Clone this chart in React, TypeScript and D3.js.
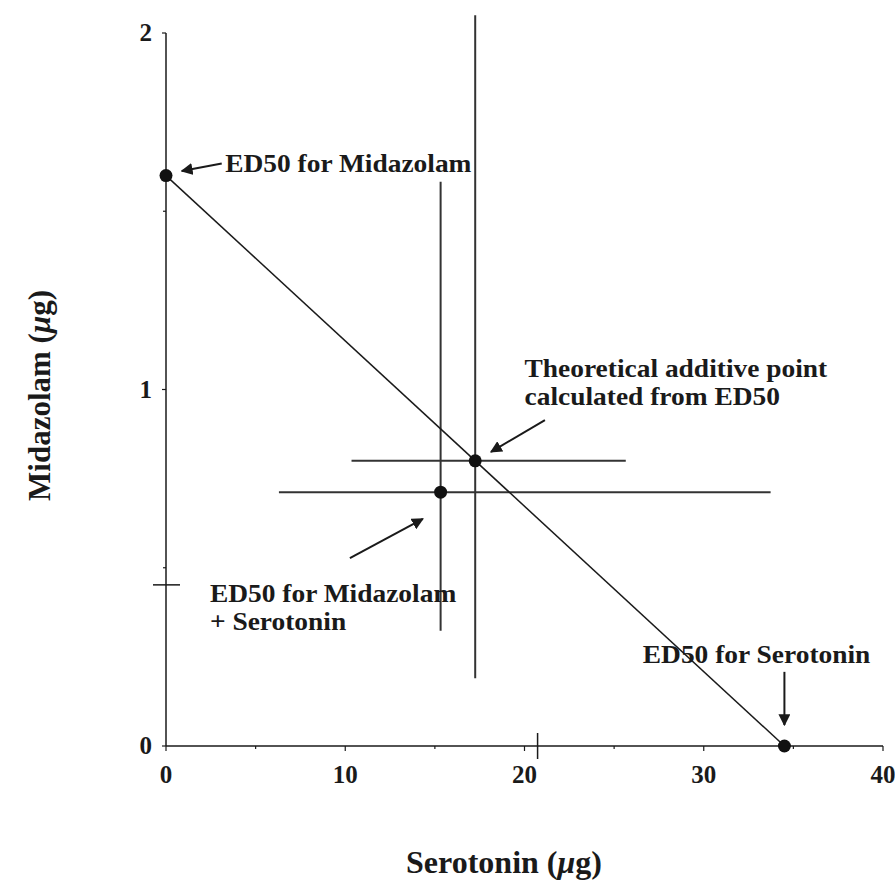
import React, { useRef, useEffect } from "react";
import * as d3 from "d3";

// axis ticks
const xTicks = [0, 10, 20, 30, 40];
const xMinorTicks = [5, 15, 25, 35];
const yTicks = [0, 1, 2];
const yMinorTicks = [0.5, 1.5];

// ED50 values (serotonin ug, midazolam ug)
const ed50Midazolam = [0, 1.6];
const ed50Serotonin = [34.5, 0];
const theoretical = [17.25, 0.8];
const theoreticalXErr = [10.35, 25.65];
const theoreticalYErr = [0.19, 2.05];
const combination = [15.32, 0.712];
const combinationXErr = [6.3, 33.73];
const combinationYErr = [0.323, 1.583];

// cross marks drawn on the axes
const xAxisMark = 20.73;
const yAxisMark = 0.452;

// annotation anchors, in data units
const labels = [
  { x: 3.3, y: 1.61, lines: ["ED50 for Midazolam"] },
  { x: 20.0, y: 1.035, lines: ["Theoretical additive point", "calculated from ED50"] },
  { x: 2.45, y: 0.404, lines: ["ED50 for Midazolam", "+ Serotonin"] },
  { x: 26.6, y: 0.233, lines: ["ED50 for Serotonin"] },
];
const arrows = [
  { from: [3.11, 1.634], to: [0.88, 1.613] },
  { from: [21.14, 0.914], to: [18.13, 0.825] },
  { from: [10.26, 0.527], to: [14.33, 0.637] },
  { from: [34.5, 0.208], to: [34.5, 0.059] },
];

const App = () => {
  const svgRef = useRef(null);
  const width = 895;
  const height = 894;
  const left = 166;
  const right = 883;
  const top = 33;
  const bottom = 746;
  const font = "'Liberation Serif', 'Times New Roman', serif";
  const ink = "#1a1a1a";

  useEffect(() => {
    const svg = d3.select(svgRef.current);
    svg.selectAll("*").remove();

    const x = d3.scaleLinear().domain([0, 40]).range([left, right]);
    const y = d3.scaleLinear().domain([0, 2]).range([bottom, top]);

    svg.append("defs").append("marker")
      .attr("id", "head")
      .attr("viewBox", "0 0 10 10")
      .attr("refX", 9).attr("refY", 5)
      .attr("markerWidth", 6).attr("markerHeight", 6)
      .attr("markerUnits", "strokeWidth")
      .attr("orient", "auto")
      .append("path").attr("d", "M0,0 L10,5 L0,10 Z").attr("fill", ink);

    // axes
    svg.append("line").attr("x1", left).attr("x2", right).attr("y1", bottom).attr("y2", bottom)
      .attr("stroke", ink).attr("stroke-width", 1.5);
    svg.append("line").attr("x1", left).attr("x2", left).attr("y1", top).attr("y2", bottom)
      .attr("stroke", ink).attr("stroke-width", 1.5);

    svg.append("g").selectAll("line").data(xTicks).join("line")
      .attr("x1", d => x(d)).attr("x2", d => x(d))
      .attr("y1", bottom).attr("y2", bottom + 5)
      .attr("stroke", ink).attr("stroke-width", 1.2);
    svg.append("g").selectAll("line").data(xMinorTicks).join("line")
      .attr("x1", d => x(d)).attr("x2", d => x(d))
      .attr("y1", bottom).attr("y2", bottom + 3)
      .attr("stroke", ink).attr("stroke-width", 1.2);
    svg.append("g").selectAll("text").data(xTicks).join("text")
      .attr("x", d => x(d)).attr("y", bottom + 37)
      .attr("text-anchor", "middle")
      .attr("font-family", font).attr("font-weight", "bold").attr("font-size", 25)
      .attr("fill", ink)
      .text(d => d);

    svg.append("g").selectAll("line").data(yTicks).join("line")
      .attr("x1", left - 4).attr("x2", left)
      .attr("y1", d => y(d)).attr("y2", d => y(d))
      .attr("stroke", ink).attr("stroke-width", 1.2);
    svg.append("g").selectAll("line").data(yMinorTicks).join("line")
      .attr("x1", left - 3).attr("x2", left)
      .attr("y1", d => y(d)).attr("y2", d => y(d))
      .attr("stroke", ink).attr("stroke-width", 1.2);
    svg.append("g").selectAll("text").data(yTicks).join("text")
      .attr("x", left - 14).attr("y", d => y(d) + 8)
      .attr("text-anchor", "end")
      .attr("font-family", font).attr("font-weight", "bold").attr("font-size", 25)
      .attr("fill", ink)
      .text(d => d);

    // cross marks on axes
    svg.append("line").attr("x1", x(xAxisMark)).attr("x2", x(xAxisMark))
      .attr("y1", bottom - 13).attr("y2", bottom + 13)
      .attr("stroke", ink).attr("stroke-width", 1.5);
    svg.append("line").attr("x1", left - 13).attr("x2", left + 14)
      .attr("y1", y(yAxisMark)).attr("y2", y(yAxisMark))
      .attr("stroke", ink).attr("stroke-width", 1.5);

    // axis titles
    svg.append("text")
      .attr("x", 504).attr("y", 873)
      .attr("text-anchor", "middle")
      .attr("font-family", font).attr("font-weight", "bold").attr("font-size", 32)
      .attr("fill", ink)
      .call(t => {
        t.append("tspan").text("Serotonin (");
        t.append("tspan").attr("font-style", "italic").text("\u03bc");
        t.append("tspan").text("g)");
      });
    svg.append("text")
      .attr("transform", `translate(50, ${(top + bottom) / 2 + 6}) rotate(-90)`)
      .attr("text-anchor", "middle")
      .attr("font-family", font).attr("font-weight", "bold").attr("font-size", 31)
      .attr("fill", ink)
      .call(t => {
        t.append("tspan").text("Midazolam (");
        t.append("tspan").attr("font-style", "italic").text("\u03bc");
        t.append("tspan").text("g)");
      });

    // error bars
    const bars = [
      { p: theoretical, xe: theoreticalXErr, ye: theoreticalYErr },
      { p: combination, xe: combinationXErr, ye: combinationYErr },
    ];
    const g = svg.append("g");
    bars.forEach(b => {
      g.append("line")
        .attr("x1", x(b.xe[0])).attr("x2", x(b.xe[1]))
        .attr("y1", y(b.p[1])).attr("y2", y(b.p[1]))
        .attr("stroke", "#333").attr("stroke-width", 2);
      g.append("line")
        .attr("x1", x(b.p[0])).attr("x2", x(b.p[0]))
        .attr("y1", y(b.ye[0])).attr("y2", y(b.ye[1]))
        .attr("stroke", "#333").attr("stroke-width", 2);
    });

    // additive isobole
    svg.append("path")
      .datum([ed50Midazolam, ed50Serotonin])
      .attr("d", d3.line().x(d => x(d[0])).y(d => y(d[1])))
      .attr("stroke", ink).attr("stroke-width", 1.5).attr("fill", "none");

    // points
    svg.append("g").selectAll("circle")
      .data([ed50Midazolam, ed50Serotonin, theoretical, combination])
      .join("circle")
      .attr("cx", d => x(d[0])).attr("cy", d => y(d[1]))
      .attr("r", 6.5).attr("fill", "#111");

    // arrows
    svg.append("g").selectAll("line").data(arrows).join("line")
      .attr("x1", d => x(d.from[0])).attr("y1", d => y(d.from[1]))
      .attr("x2", d => x(d.to[0])).attr("y2", d => y(d.to[1]))
      .attr("stroke", ink).attr("stroke-width", 2)
      .attr("marker-end", "url(#head)");

    // labels: the original type is a little wider than it is tall
    labels.forEach(l => {
      const t = svg.append("g")
        .attr("transform", `translate(${x(l.x)}, ${y(l.y)}) scale(1.12, 1)`)
        .append("text")
        .attr("font-family", font).attr("font-weight", "bold").attr("font-size", 24.5)
        .attr("fill", ink);
      l.lines.forEach((s, i) => {
        t.append("tspan").attr("x", 0).attr("y", i * 28).text(s);
      });
    });
  });

  return (
    <svg ref={svgRef} width={width} height={height}
      style={{ position: "absolute", left: 0, top: 0, background: "#fff" }}>
    </svg>
  );
};

export default App;
